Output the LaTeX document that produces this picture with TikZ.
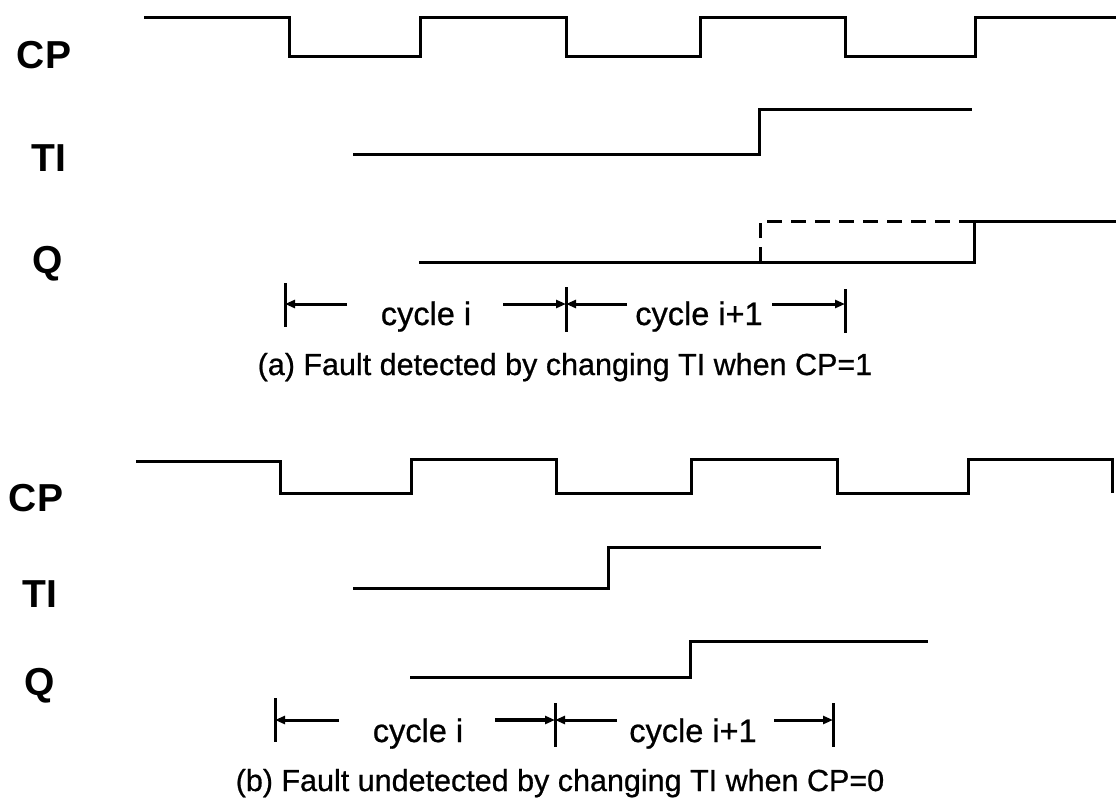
\documentclass[tikz,border=0pt]{standalone}
\usepackage{fontspec}
\setmainfont{Liberation Sans}
\newfontfamily\heavysans[FakeBold=0.7]{Liberation Sans}
\usetikzlibrary{arrows.meta}
\begin{document}
\begin{tikzpicture}[x=1pt,y=-1pt,
  wave/.style={line width=3pt,line join=miter},
  dashwave/.style={line width=3pt,dash pattern=on 15pt off 9pt},
  bar/.style={line width=3pt},
  span/.style={line width=3pt,-{Triangle[length=10pt,width=8pt]}},
  siglabel/.style={anchor=base,inner sep=0pt,font=\fontsize{39}{39}\selectfont\bfseries},
  cyclabel/.style={anchor=base,inner sep=0pt,font=\heavysans\fontsize{32.5}{32.5}\selectfont},
  caption/.style={anchor=base,inner sep=0pt,font=\heavysans\fontsize{30.5}{30.5}\selectfont}]
\useasboundingbox (0,0) rectangle (1116,801);

% ---------------- (a) ----------------
\node[siglabel] (cpa) at (44,68) {CP};
\node[siglabel] (tia) at (49,171) {TI};
\node[siglabel] (qa)  at (48,273) {Q};

% clock
\draw[wave] (144,17) -- (289,17) -- (289,56) -- (420,56) -- (420,17)
  -- (566,17) -- (566,56) -- (700,56) -- (700,17) -- (845,17) -- (845,56)
  -- (975,56) -- (975,17) -- (1116,17);
% test input
\draw[wave] (353,154) -- (759,154) -- (759,109) -- (972,109);
% output
\draw[wave] (419,262) -- (974,262) -- (974,221) -- (1116,221);
\draw[dashwave] (760,262) -- (760,221) -- (974,221);

% cycle markers
\coordinate (a0t) at (285,283); \coordinate (a0b) at (285,327);
\coordinate (a1t) at (566,287); \coordinate (a1b) at (566,332);
\coordinate (a2t) at (845,289); \coordinate (a2b) at (845,333);
\draw[bar] (a0t) -- (a0b);
\draw[bar] (a1t) -- (a1b);
\draw[bar] (a2t) -- (a2b);
\coordinate (a0) at (285,304); \coordinate (a1) at (566,304); \coordinate (a2) at (845,304);
\coordinate (a0s) at (347,304); \coordinate (a1s) at (503,304);
\coordinate (a1r) at (627,304); \coordinate (a2s) at (772,304);
\draw[span] (a0s) -- (a0);
\draw[span] (a1s) -- (a1);
\draw[span] (a1r) -- (a1);
\draw[span] (a2s) -- (a2);
\node[cyclabel] (ca1) at (426,325) {cycle i};
\node[cyclabel] (ca2) at (699,325) {cycle i+1};
\node[caption] (capa) at (565,375) {(a) Fault detected by changing TI when CP=1};

% ---------------- (b) ----------------
\node[siglabel] (cpb) at (36,511) {CP};
\node[siglabel] (tib) at (40,607) {TI};
\node[siglabel] (qb)  at (40,695) {Q};

% clock
\draw[wave] (136,461) -- (280,461) -- (280,493) -- (411,493) -- (411,459)
  -- (556,459) -- (556,493) -- (691,493) -- (691,459) -- (837,459) -- (837,493)
  -- (968,493) -- (968,459) -- (1112,459) -- (1112,493);
% test input
\draw[wave] (353,588) -- (608,588) -- (608,547) -- (821,547);
% output
\draw[wave] (410,677) -- (690,677) -- (690,641) -- (928,641);

% cycle markers
\coordinate (b0t) at (275,698); \coordinate (b0b) at (275,742);
\coordinate (b1t) at (555,703); \coordinate (b1b) at (555,747);
\coordinate (b2t) at (833,703); \coordinate (b2b) at (833,747);
\draw[bar] (b0t) -- (b0b);
\draw[bar] (b1t) -- (b1b);
\draw[bar] (b2t) -- (b2b);
\coordinate (b0) at (275,720); \coordinate (b1) at (555,720); \coordinate (b2) at (833,720);
\coordinate (b0s) at (339,720); \coordinate (b1s) at (495,720);
\coordinate (b1r) at (617,720); \coordinate (b2s) at (774,720);
\draw[span] (b0s) -- (b0);
\draw[span,line width=4pt] (b1s) -- (b1);
\draw[span] (b1r) -- (b1);
\draw[span] (b2s) -- (b2);
\node[cyclabel] (cb1) at (418,742) {cycle i};
\node[cyclabel] (cb2) at (693,742) {cycle i+1};
\node[caption] (capb) at (560,791) {(b) Fault undetected by changing TI when CP=0};
\end{tikzpicture}
\end{document}
